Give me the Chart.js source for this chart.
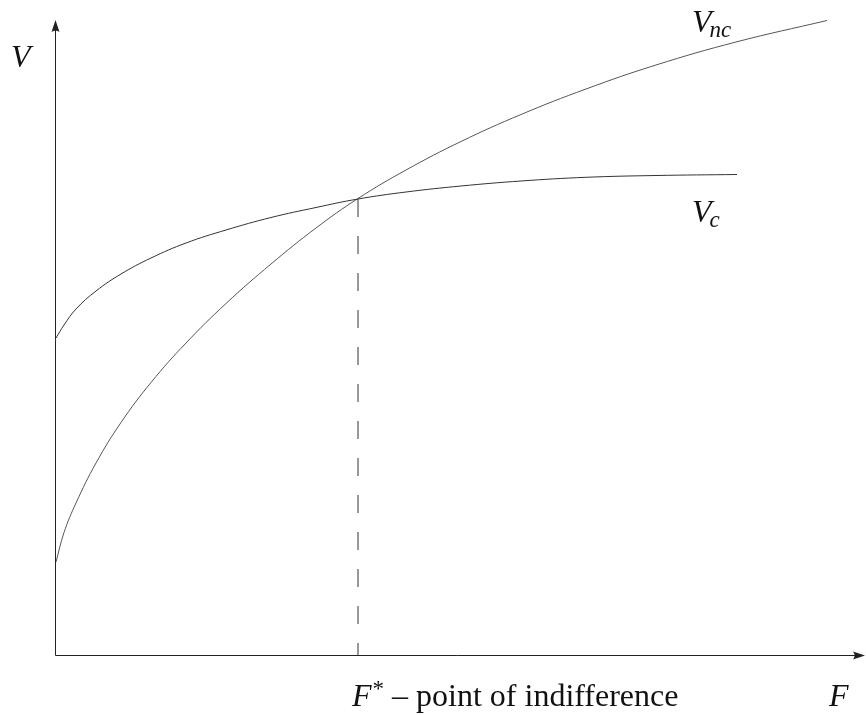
<!DOCTYPE html>
<html>
<head>
<meta charset="utf-8">
<script src="https://cdn.jsdelivr.net/npm/chart.js@4/dist/chart.umd.min.js"></script>
<style>
	body { margin: 0; background: #fff; }
	#wrap { width: 866px; height: 715px; position: relative; }
</style>
</head>
<body>
<div id="wrap"><canvas id="indifference"></canvas></div>
<script>
// F values (horizontal) and V values
var vcF = [0, 8, 20, 40, 65, 95, 130, 170, 215, 260, 302, 350, 405, 465, 530, 600, 681];
var vcV = [317, 330, 346, 364, 381, 397, 412, 425, 437.5, 447.5, 456, 463, 469, 474, 477.7, 479.5, 480.5];

var vncF = [0, 8, 20, 40, 65, 95, 130, 170, 215, 260, 302, 350, 405, 465, 530, 600, 680, 771];
var vncV = [93, 122.5, 152, 192, 232.5, 272.5, 312, 351.5, 391, 427, 456.5, 485, 513.5, 540.5, 566, 590, 613, 634.5];

var fStar = 302;
var fStarV = 456;
var xMax = 809;
var yMax = 635;

function toPoints(xs, ys) {
	let pts = [];
	for (i = 0; i < xs.length; i++) {
		pts.push({ x: xs[i], y: ys[i] });
	}
	return pts;
}

const serif = '"Liberation Serif", "DejaVu Serif", serif';

const axesAndLabels = {
	id: 'axesAndLabels',
	afterDraw: function(chart) {
		const ctx = chart.ctx;
		const xs = chart.scales.x;
		const ys = chart.scales.y;
		const ox = Math.round(xs.getPixelForValue(0)) - 0.5;
		const oy = Math.round(ys.getPixelForValue(0)) + 0.5;
		const top = ys.getPixelForValue(yMax);
		const right = xs.getPixelForValue(xMax);

		ctx.save();
		ctx.strokeStyle = '#222';
		ctx.fillStyle = '#222';
		ctx.lineWidth = 1;
		ctx.beginPath();
		ctx.moveTo(ox, oy);
		ctx.lineTo(ox, top + 6);
		ctx.moveTo(ox, oy);
		ctx.lineTo(right - 6, oy);
		ctx.stroke();

		// arrow heads
		ctx.beginPath();
		ctx.moveTo(ox, top);
		ctx.lineTo(ox - 4, top + 12);
		ctx.quadraticCurveTo(ox, top + 9, ox + 4, top + 12);
		ctx.closePath();
		ctx.fill();
		ctx.beginPath();
		ctx.moveTo(right, oy);
		ctx.lineTo(right - 12, oy - 4);
		ctx.quadraticCurveTo(right - 9, oy, right - 12, oy + 4);
		ctx.closePath();
		ctx.fill();

		// labels
		ctx.fillStyle = '#111';
		ctx.textBaseline = 'alphabetic';
		ctx.textAlign = 'left';

		function sub(main, small, x, y) {
			ctx.font = 'italic 32px ' + serif;
			ctx.fillText(main, x, y);
			let w = ctx.measureText(main).width;
			ctx.font = 'italic 23px ' + serif;
			ctx.fillText(small, x + w - 2, y + 5);
		}

		ctx.font = 'italic 32px ' + serif;
		ctx.fillText('V', 11, 67);
		sub('V', 'nc', 692, 32);
		sub('V', 'c', 692, 222);

		let bx = 352, by = 706;
		ctx.font = 'italic 32px ' + serif;
		ctx.fillText('F', bx, by);
		bx += ctx.measureText('F').width + 1;
		ctx.font = '23px ' + serif;
		ctx.fillText('*', bx, by - 10);
		bx += ctx.measureText('*').width;
		ctx.font = '32px ' + serif;
		ctx.fillText(' \u2013 point of indifference', bx, by);

		ctx.font = 'italic 32px ' + serif;
		ctx.fillText('F', 829, by);
		ctx.restore();
	}
};

const ctx = document.getElementById('indifference').getContext('2d');
const myChart = new Chart(ctx, {
	type: 'line',
	data: {
		datasets: [{
			label: 'Vc',
			data: toPoints(vcF, vcV),
			borderColor: '#333',
			borderWidth: 1,
			pointRadius: 0,
			tension: 0.4
		}, {
			label: 'Vnc',
			data: toPoints(vncF, vncV),
			borderColor: '#555',
			borderWidth: 1,
			pointRadius: 0,
			tension: 0.4
		}, {
			label: 'F*',
			data: [{ x: fStar, y: fStarV }, { x: fStar, y: 0 }],
			borderColor: '#333',
			borderWidth: 1,
			borderDash: [18, 19],
			pointRadius: 0
		}]
	},
	options: {
		responsive: true,
		maintainAspectRatio: false,
		animation: false,
		clip: false,
		layout: { padding: { left: 56, top: 20, right: 1, bottom: 60 } },
		plugins: {
			legend: { display: false },
			tooltip: { enabled: false }
		},
		scales: {
			x: { type: 'linear', min: 0, max: xMax, display: false },
			y: { type: 'linear', min: 0, max: yMax, display: false }
		}
	},
	plugins: [axesAndLabels]
});
</script>
</body>
</html>
